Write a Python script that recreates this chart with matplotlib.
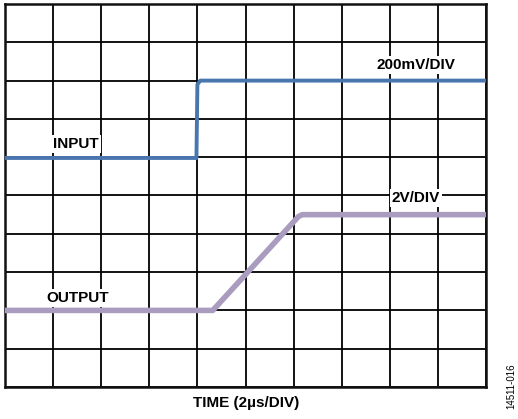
import matplotlib
matplotlib.use("Agg")
import matplotlib.pyplot as plt

# --------- datos (en divisiones de pantalla) ---------
input_t = [0.0, 3.98, 4.0, 4.06, 10.0]
input_v = [5.98, 5.98, 7.9, 8.0, 8.0]

output_t = [0.0, 4.32, 6.1, 6.18, 10.0]
output_v = [2.0, 2.0, 4.45, 4.5, 4.5]

grid_ticks = list(range(0, 11))

plt.rcParams["font.family"] = ["Liberation Sans", "DejaVu Sans"]

fig = plt.figure(figsize=(5.18, 4.19), dpi=100)
ax = fig.add_axes([5 / 518, 1 - 387 / 419, 481 / 518, 383 / 419])

ax.set_xlim(0, 10)
ax.set_ylim(0, 10)
ax.set_xticks(grid_ticks)
ax.set_yticks(grid_ticks)
ax.tick_params(length=0, labelbottom=False, labelleft=False)
ax.grid(True, color="black", linewidth=1.3)
for s in ax.spines.values():
    s.set_linewidth(1.8)
    s.set_color("#111111")

ax.plot(output_t, output_v, color="#A99CBF", linewidth=4.0,
        solid_capstyle="butt", zorder=3)
ax.plot(input_t, input_v, color="#4A76B0", linewidth=2.8,
        solid_capstyle="butt", zorder=3)

box = dict(boxstyle="square,pad=0.12", facecolor="white", edgecolor="none")
kw = dict(fontsize=11, fontweight="bold", bbox=box, zorder=4)
ax.text(1.0, 6.34, "INPUT", ha="left", va="center", **kw)
ax.text(0.85, 2.32, "OUTPUT", ha="left", va="center", **kw)
ax.text(8.54, 8.41, "200mV/DIV", ha="center", va="center", **kw)
ax.text(8.54, 4.93, "2V/DIV", ha="center", va="center", **kw)

fig.text(246 / 518, 1 - 403 / 419, "TIME (2µs/DIV)", ha="center",
         va="center", fontsize=11, fontweight="bold")
fig.text(511 / 518, 1 - 386 / 419, "14511-016", ha="center", va="center",
         rotation=90, fontsize=7)

fig.savefig("out.png", dpi=100)
